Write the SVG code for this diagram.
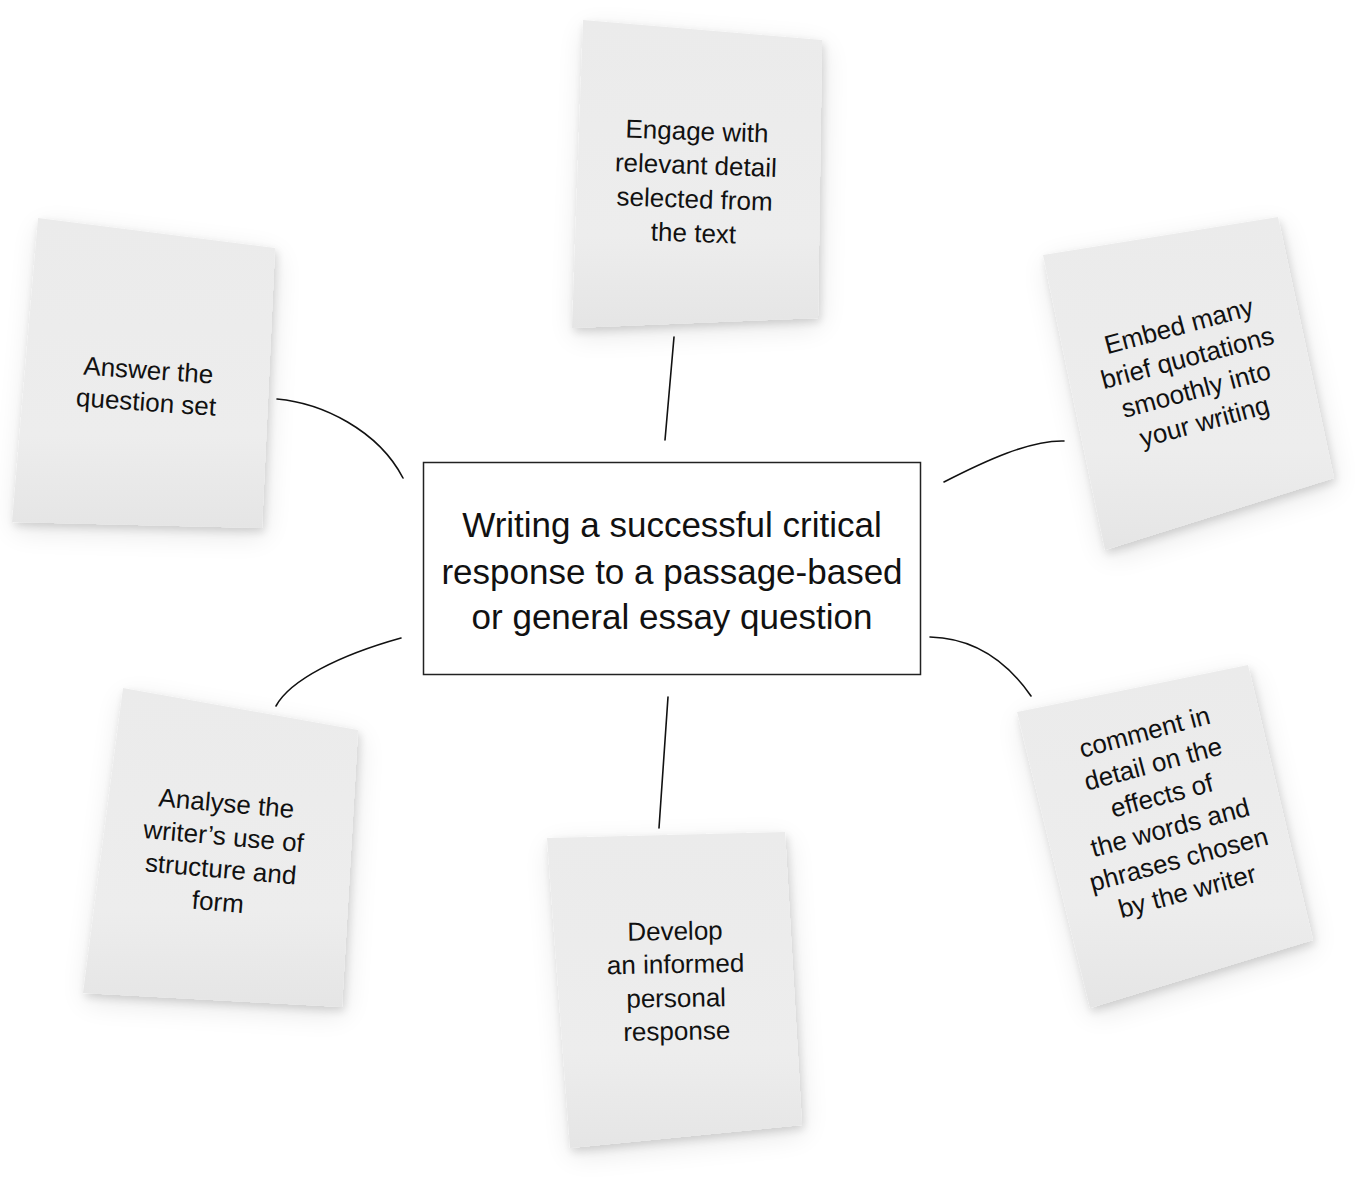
<svg xmlns="http://www.w3.org/2000/svg" width="1356" height="1179" viewBox="0 0 1356 1179">
  <defs>
    <filter id="sh" x="-20%" y="-20%" width="140%" height="140%">
      <feGaussianBlur in="SourceAlpha" stdDeviation="14" result="b1"/>
      <feOffset in="b1" dx="2" dy="8" result="o1"/>
      <feComponentTransfer in="o1" result="c1"><feFuncA type="linear" slope="0.10"/></feComponentTransfer>
      <feGaussianBlur in="SourceAlpha" stdDeviation="4" result="b2"/>
      <feOffset in="b2" dx="2" dy="4" result="o2"/>
      <feComponentTransfer in="o2" result="c2"><feFuncA type="linear" slope="0.14"/></feComponentTransfer>
      <feMerge><feMergeNode in="c1"/><feMergeNode in="c2"/><feMergeNode in="SourceGraphic"/></feMerge>
    </filter>
    <linearGradient id="paper" x1="0" y1="0" x2="0" y2="1">
      <stop offset="0" stop-color="#ebebeb"/>
      <stop offset="0.7" stop-color="#ededed"/>
      <stop offset="1" stop-color="#e5e5e5"/>
    </linearGradient>
  </defs>
  <style>
    .note { fill: url(#paper); filter: url(#sh); }
    .nt { font-family: "Liberation Sans", "DejaVu Sans", sans-serif; font-size: 26px; fill: #111; text-anchor: middle; }
    .ct { font-family: "Liberation Sans", "DejaVu Sans", sans-serif; font-size: 35px; fill: #111; text-anchor: middle; }
    .conn { fill: none; stroke: #111; stroke-width: 1.6; stroke-linecap: round; }
  </style>
  <rect width="1356" height="1179" fill="#ffffff"/>

  <g id="connectors">
    <path class="conn" d="M277,399 C322,403 378,430 403,478"/>
    <path class="conn" d="M674,337 L665,440"/>
    <path class="conn" d="M944,482 C985,461 1030,440 1064,441"/>
    <path class="conn" d="M930,637 C972,638 1006,660 1031,696"/>
    <path class="conn" d="M668,697 L659,828"/>
    <path class="conn" d="M401,638 C340,655 290,680 276,706"/>
  </g>

  <g id="center">
    <rect x="423.5" y="462.5" width="497" height="212" fill="#ffffff" stroke="#222" stroke-width="1.5"/>
    <text class="ct" x="672" y="537">Writing a successful critical</text>
    <text class="ct" x="672" y="584">response to a passage-based</text>
    <text class="ct" x="672" y="629">or general essay question</text>
  </g>

  <g id="note-answer">
    <polygon class="note" points="38,218 275,248 262,528 12,522"/>
    <g transform="rotate(4 147 390)">
      <text class="nt" x="147" y="379">Answer the</text>
      <text class="nt" x="147" y="411">question set</text>
    </g>
  </g>

  <g id="note-engage">
    <polygon class="note" points="583,20 822,40 818,318 572,328"/>
    <g transform="rotate(2 695 190)">
      <text class="nt" x="695" y="140">Engage with</text>
      <text class="nt" x="695" y="174">relevant detail</text>
      <text class="nt" x="695" y="208">selected from</text>
      <text class="nt" x="695" y="242">the text</text>
    </g>
  </g>

  <g id="note-embed">
    <polygon class="note" points="1043,255 1278,217 1334,478 1105,550"/>
    <g transform="rotate(-15 1192 375)">
      <text class="nt" x="1192" y="333">Embed many</text>
      <text class="nt" x="1192" y="366">brief quotations</text>
      <text class="nt" x="1192" y="399">smoothly into</text>
      <text class="nt" x="1192" y="432">your writing</text>
    </g>
  </g>

  <g id="note-comment">
    <polygon class="note" points="1017,712 1248,665 1313,940 1090,1008"/>
    <g transform="rotate(-15 1166 812)">
      <text class="nt" x="1166" y="738">comment in</text>
      <text class="nt" x="1166" y="771">detail on the</text>
      <text class="nt" x="1166" y="804">effects of</text>
      <text class="nt" x="1166" y="837">the words and</text>
      <text class="nt" x="1166" y="870">phrases chosen</text>
      <text class="nt" x="1166" y="903">by the writer</text>
    </g>
  </g>

  <g id="note-develop">
    <polygon class="note" points="547,838 785,832 802,1125 570,1148"/>
    <g transform="rotate(-1 676 990)">
      <text class="nt" x="676" y="940">Develop</text>
      <text class="nt" x="676" y="973">an informed</text>
      <text class="nt" x="676" y="1007">personal</text>
      <text class="nt" x="676" y="1040">response</text>
    </g>
  </g>

  <g id="note-analyse">
    <polygon class="note" points="123,688 358,730 342,1007 83,993"/>
    <g transform="rotate(5 222 855)">
      <text class="nt" x="222" y="812">Analyse the</text>
      <text class="nt" x="222" y="845">writer’s use of</text>
      <text class="nt" x="222" y="878">structure and</text>
      <text class="nt" x="222" y="911">form</text>
    </g>
  </g>
</svg>
